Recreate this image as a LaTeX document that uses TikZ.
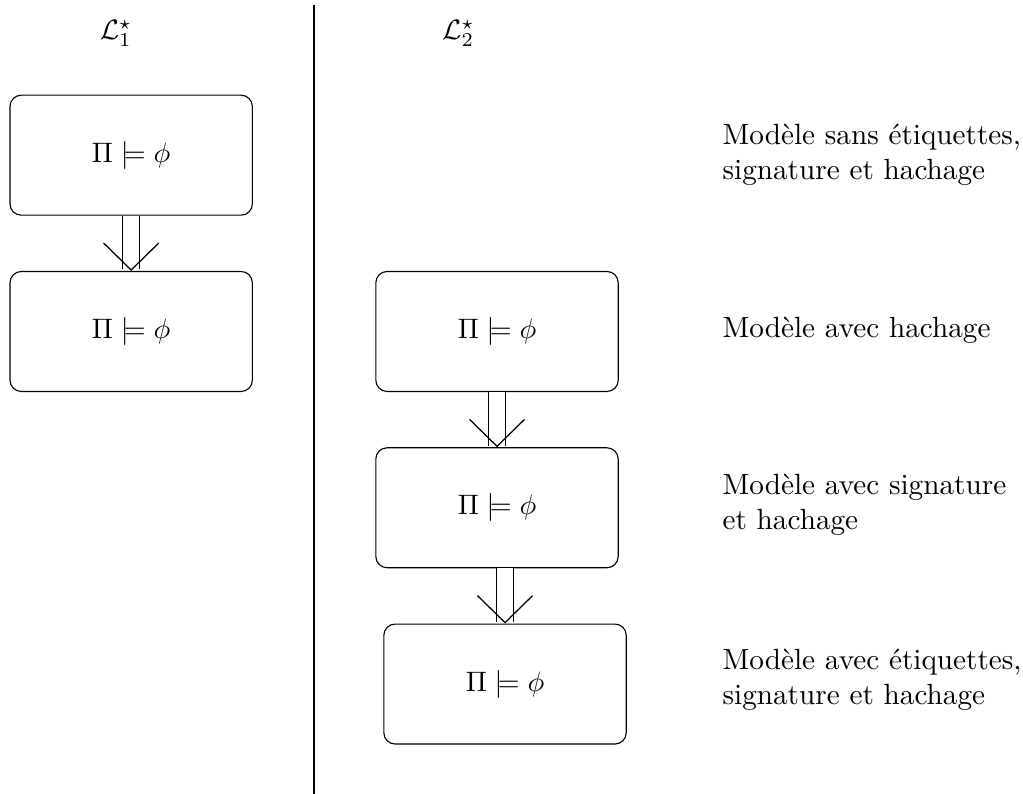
\documentclass[tikz,border=0pt]{standalone}
\usepackage{amsmath}
\usepackage{amssymb}
\usepackage{tikz}
\usetikzlibrary{positioning,shapes,arrows.meta}
\tikzset{
    every node/.style={
        font=\fontsize{10.4}{12.5}\selectfont
    },
    model/.style={
        rectangle,
        rounded corners=4pt,
        draw=black,
        text centered,
        minimum width=3.03cm,
        minimum height=1.5cm
    },
    implies/.style={
        double,
        double distance=5.5pt,
        -{Straight Barb[length=9.6pt,width=19.6pt,line width'=0.45pt]}
    },
    legend/.style={
        anchor=west,
        align=left
    }
}
\begin{document}
\begin{tikzpicture}[node distance=0.69cm]
          \useasboundingbox (0,0) rectangle (12.79,-9.925);
          % les deux langages
          \node (lang1) at (1.45,-0.42) {$\mathcal{L}^\star_1$};
          \node (lang2) at (5.73,-0.42) {$\mathcal{L}^\star_2$};
          \coordinate (septop) at (3.925,-0.06);
          \coordinate (sepbot) at (3.925,-9.925);
          \draw (septop) -- (sepbot);
          % colonne de gauche
          \node (left1) [model] at (1.64,-1.94) {$\Pi \models \phi$};
          \node (left2) [model, below=of left1] {$\Pi \models \phi$};
          % colonne de droite
          \node (right1) [model, right=1.53cm of left2] {$\Pi \models \phi$};
          \node (right2) [model, below=of right1] {$\Pi \models \phi$};
          \node (right3) [model, below=of right2, xshift=0.1cm] {$\Pi \models \phi$};
          % les modeles
          \node (desc1) [legend] at (8.91,-1.94) {Modèle sans étiquettes,\\signature et hachage};
          \node (desc2) [legend] at (8.91,-4.125) {Modèle avec hachage};
          \node (desc3) [legend] at (8.91,-6.31) {Modèle avec signature\\et hachage};
          \node (desc4) [legend] at (8.91,-8.5) {Modèle avec étiquettes,\\signature et hachage};
          \draw [implies] (left1) -- (left2);
          \draw [implies] (right1) -- (right2);
          \draw [implies] (right2.south -| right3) -- (right3);
        \end{tikzpicture}
\end{document}
